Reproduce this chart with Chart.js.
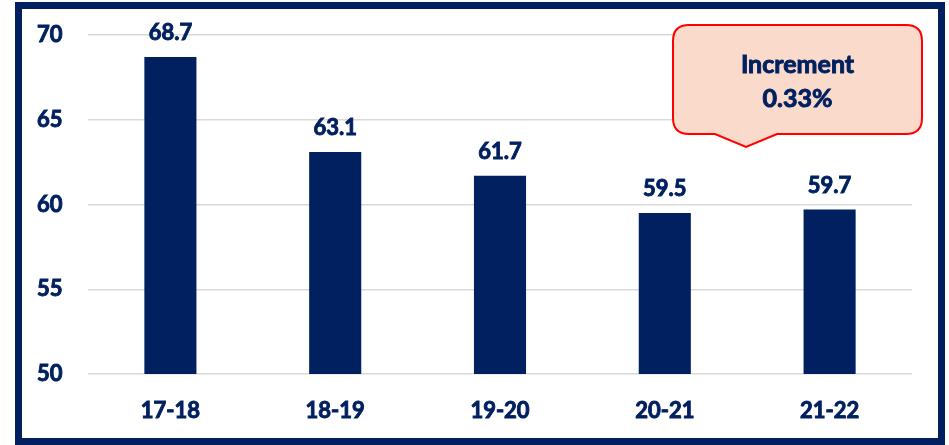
<!DOCTYPE html>
<html>
<head>
<meta charset="utf-8">
<script src="https://cdn.jsdelivr.net/npm/chart.js@4"></script>
<style>
  body { margin: 0; background: #fff; }
  #frame {
    position: absolute; left: 15px; top: 2px; width: 930px; height: 443px;
    box-sizing: border-box; border: 7px solid #002060;
  }
  #wrap { position: absolute; left: 0; top: 0; width: 949px; height: 445px; }
</style>
</head>
<body>
<div id="frame"></div>
<div id="wrap"><canvas id="barChart" width="949" height="445"></canvas></div>
<script>
const years = ['17-18', '18-19', '19-20', '20-21', '21-22'];
const values = [68.7, 63.1, 61.7, 59.5, 59.7];
const yTicks = [50, 55, 60, 65, 70];
const calloutLines = ['Increment', '0.33%'];

const NAVY = '#002060';
const FONT = 'Lato, "Open Sans", sans-serif';
const WEIGHT = 'bold';
const STROKE = 0.9; // thickens the text a little

// value above each bar
const valueLabels = {
  id: 'valueLabels',
  afterDatasetsDraw(chart) {
    const ctx = chart.ctx;
    const meta = chart.getDatasetMeta(0);
    ctx.save();
    ctx.fillStyle = NAVY;
    ctx.strokeStyle = NAVY;
    ctx.lineWidth = STROKE;
    ctx.font = WEIGHT + ' 22px ' + FONT;
    ctx.textAlign = 'center';
    ctx.textBaseline = 'alphabetic';
    meta.data.forEach((bar, i) => {
      const txt = values[i].toFixed(1);
      ctx.strokeText(txt, bar.x, bar.y - 17);
      ctx.fillText(txt, bar.x, bar.y - 17);
    });
    ctx.restore();
  }
};

// rounded callout box with a pointer at the bottom
const callout = {
  id: 'callout',
  afterDraw(chart) {
    const ctx = chart.ctx;
    const a = chart.chartArea;
    const x = a.right - 239, y = a.top - 10, w = 249, h = 109, r = 16;
    const px1 = x + 42, px2 = x + 104, tipX = x + 73, tipY = y + h + 13;
    ctx.save();
    ctx.beginPath();
    ctx.moveTo(x + r, y);
    ctx.lineTo(x + w - r, y);
    ctx.quadraticCurveTo(x + w, y, x + w, y + r);
    ctx.lineTo(x + w, y + h - r);
    ctx.quadraticCurveTo(x + w, y + h, x + w - r, y + h);
    ctx.lineTo(px2, y + h);
    ctx.lineTo(tipX, tipY);
    ctx.lineTo(px1, y + h);
    ctx.lineTo(x + r, y + h);
    ctx.quadraticCurveTo(x, y + h, x, y + h - r);
    ctx.lineTo(x, y + r);
    ctx.quadraticCurveTo(x, y, x + r, y);
    ctx.closePath();
    ctx.fillStyle = '#fadbcb';
    ctx.fill();
    ctx.lineWidth = 2;
    ctx.strokeStyle = '#ff0000';
    ctx.stroke();
    ctx.fillStyle = NAVY;
    ctx.strokeStyle = NAVY;
    ctx.lineWidth = STROKE;
    ctx.font = WEIGHT + ' 25px ' + FONT;
    ctx.textAlign = 'center';
    ctx.textBaseline = 'middle';
    calloutLines.forEach((line, i) => {
      const ly = y + 40 + i * 34;
      ctx.strokeText(line, x + w / 2, ly);
      ctx.fillText(line, x + w / 2, ly);
    });
    ctx.restore();
  }
};

const tickStyle = {
  color: NAVY,
  font: { family: FONT, size: 22, weight: WEIGHT },
  textStrokeColor: NAVY,
  textStrokeWidth: STROKE
};

new Chart(document.getElementById('barChart'), {
  type: 'bar',
  data: {
    labels: years,
    datasets: [{
      data: values,
      backgroundColor: NAVY,
      barPercentage: 0.316,
      categoryPercentage: 1
    }]
  },
  options: {
    responsive: false,
    animation: false,
    layout: { padding: { left: 37, right: 37, top: 35, bottom: 0 } },
    plugins: { legend: { display: false }, tooltip: { enabled: false } },
    scales: {
      x: {
        grid: { display: false, drawTicks: false },
        border: { display: false },
        ticks: { ...tickStyle, padding: 24 },
        afterFit(scale) { scale.height = 71; }
      },
      y: {
        min: yTicks[0],
        max: yTicks[yTicks.length - 1],
        afterBuildTicks(scale) { scale.ticks = yTicks.map(v => ({ value: v })); },
        grid: { color: '#d9d9d9', lineWidth: 1.5, drawTicks: false },
        border: { display: false },
        ticks: { ...tickStyle, padding: 0, crossAlign: 'far' },
        afterFit(scale) { scale.width = 51; }
      }
    }
  },
  plugins: [valueLabels, callout]
});
</script>
</body>
</html>
